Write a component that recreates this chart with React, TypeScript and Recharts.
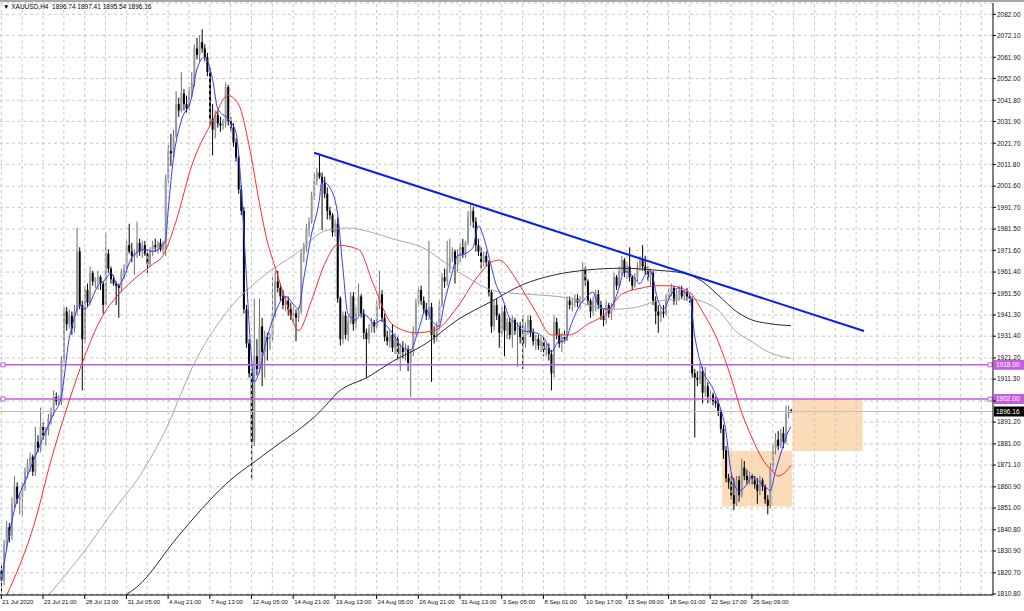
import React from 'react';
import {
  ComposedChart,
  Bar,
  Line,
  XAxis,
  YAxis,
  CartesianGrid,
  ReferenceLine,
  ReferenceArea,
} from 'recharts';

// XAUUSD H4 candles (bar 0 = 21 Jul 2020)
const opens = [
  1822, 1817, 1834, 1842, 1838, 1853, 1861, 1855, 1856, 1862,
  1868, 1871, 1875, 1868, 1882, 1879, 1889, 1885, 1887, 1893,
  1896, 1903, 1901, 1901, 1920, 1943, 1937, 1941, 1935, 1943,
  1971, 1946, 1930, 1953, 1947, 1961, 1957, 1958, 1959, 1956,
  1946, 1970, 1963, 1958, 1956, 1955, 1954, 1961, 1963, 1974,
  1971, 1969, 1970, 1975, 1971, 1974, 1970, 1965, 1971, 1974,
  1973, 1975, 1972, 1972, 2005, 2018, 2017, 2025, 2040, 2037,
  2045, 2040, 2038, 2046, 2050, 2066, 2063, 2069, 2066, 2062,
  2055, 2033, 2028, 2035, 2031, 2030, 2031, 2048, 2032, 2029,
  2022, 2015, 2000, 1990, 1944, 1928, 1914, 1882, 1922, 1916,
  1936, 1924, 1931, 1930, 1931, 1942, 1957, 1954, 1950, 1946,
  1948, 1944, 1941, 1942, 1940, 1943, 1970, 1973, 1982, 1985,
  1997, 2004, 2008, 2006, 2003, 1998, 1990, 1988, 1980, 1984,
  1949, 1930, 1941, 1932, 1938, 1950, 1937, 1942, 1950, 1942,
  1933, 1930, 1935, 1938, 1936, 1946, 1951, 1940, 1931, 1929,
  1932, 1926, 1930, 1923, 1926, 1924, 1925, 1919, 1924, 1934,
  1947, 1953, 1948, 1944, 1941, 1945, 1932, 1931, 1936, 1946,
  1959, 1957, 1963, 1968, 1971, 1965, 1969, 1973, 1970, 1975,
  1987, 1990, 1985, 1974, 1971, 1966, 1969, 1966, 1952, 1936,
  1946, 1941, 1933, 1943, 1934, 1938, 1932, 1939, 1934, 1936,
  1931, 1928, 1936, 1939, 1933, 1929, 1930, 1927, 1929, 1925,
  1926, 1923, 1914, 1938, 1932, 1928, 1931, 1930, 1948, 1946,
  1947, 1949, 1947, 1949, 1963, 1957, 1948, 1943, 1948, 1951,
  1946, 1941, 1939, 1946, 1942, 1945, 1959, 1955, 1962, 1967,
  1961, 1964, 1959, 1955, 1959, 1964, 1967, 1964, 1962, 1959,
  1961, 1948, 1943, 1941, 1943, 1942, 1950, 1952, 1954, 1948,
  1951, 1953, 1950, 1952, 1950, 1949, 1914, 1912, 1911, 1915,
  1905, 1908, 1903, 1904, 1901, 1900, 1896, 1888, 1878, 1865,
  1863, 1857, 1853, 1864, 1857, 1870, 1866, 1864, 1866, 1864,
  1862, 1859, 1864, 1861, 1855, 1852, 1870, 1879, 1883, 1880,
  1886, 1882, 1895, 1896.74,
];

const highs = [
  1824, 1836, 1845, 1844, 1856, 1866, 1863, 1858, 1863, 1870,
  1874, 1877, 1876, 1889, 1885, 1898, 1891, 1889, 1895, 1898,
  1906, 1905, 1904, 1922, 1945, 1945, 1944, 1943, 1946, 1982,
  1973, 1948, 1955, 1956, 1964, 1962, 1959, 1962, 1960, 1957,
  1980, 1972, 1964, 1960, 1957, 1956, 1963, 1965, 1976, 1984,
  1975, 1972, 1985, 1977, 1976, 1976, 1972, 1973, 1976, 1977,
  1976, 1977, 1976, 2007, 2021, 2026, 2028, 2046, 2043, 2055,
  2047, 2044, 2048, 2055, 2068, 2071, 2072, 2075, 2068, 2064,
  2057, 2040, 2037, 2037, 2034, 2033, 2050, 2049, 2034, 2031,
  2024, 2016, 2002, 1992, 1946, 1930, 1916, 1949, 1930, 1949,
  1940, 1934, 1933, 1933, 1959, 1962, 1962, 1956, 1953, 1950,
  1950, 1947, 1945, 1944, 1945, 1972, 1975, 1984, 1987, 1999,
  2008, 2010, 2016, 2008, 2006, 2001, 1992, 1989, 1986, 1987,
  1950, 1943, 1943, 1941, 1952, 1952, 1945, 1956, 1951, 1944,
  1935, 1937, 1940, 1939, 1948, 1962, 1953, 1942, 1934, 1934,
  1937, 1933, 1932, 1928, 1929, 1928, 1927, 1925, 1936, 1949,
  1955, 1955, 1950, 1947, 1976, 1947, 1936, 1938, 1948, 1961,
  1963, 1976, 1977, 1973, 1972, 1972, 1975, 1977, 1976, 1990,
  1993, 1992, 1987, 1977, 1973, 1971, 1971, 1967, 1953, 1948,
  1949, 1942, 1945, 1946, 1940, 1940, 1941, 1940, 1938, 1938,
  1941, 1938, 1941, 1941, 1935, 1932, 1932, 1931, 1931, 1928,
  1928, 1925, 1941, 1940, 1935, 1933, 1934, 1950, 1950, 1949,
  1951, 1951, 1950, 1966, 1964, 1958, 1949, 1950, 1953, 1953,
  1948, 1944, 1948, 1947, 1947, 1961, 1960, 1964, 1969, 1968,
  1966, 1973, 1960, 1961, 1966, 1969, 1974, 1969, 1964, 1963,
  1962, 1950, 1946, 1945, 1946, 1951, 1954, 1956, 1955, 1953,
  1955, 1955, 1953, 1954, 1952, 1950, 1916, 1915, 1919, 1917,
  1917, 1910, 1906, 1905, 1903, 1902, 1897, 1890, 1880, 1867,
  1866, 1865, 1866, 1866, 1874, 1873, 1869, 1868, 1867, 1866,
  1865, 1866, 1865, 1862, 1857, 1872, 1881, 1886, 1887, 1888,
  1889, 1899, 1899, 1897.41,
];

const lows = [
  1812, 1815, 1832, 1835, 1836, 1851, 1853, 1848, 1847, 1859,
  1865, 1868, 1866, 1866, 1877, 1877, 1883, 1880, 1885, 1890,
  1894, 1899, 1899, 1899, 1919, 1934, 1935, 1932, 1933, 1941,
  1944, 1906, 1928, 1945, 1946, 1955, 1954, 1953, 1953, 1942,
  1945, 1961, 1956, 1955, 1946, 1940, 1952, 1958, 1961, 1970,
  1966, 1960, 1968, 1969, 1968, 1969, 1961, 1964, 1969, 1971,
  1970, 1971, 1970, 1969, 2003, 2011, 2015, 2024, 2034, 2036,
  2037, 2036, 2037, 2043, 2048, 2061, 2060, 2064, 2060, 2053,
  2030, 2016, 2024, 2029, 2027, 2028, 2029, 2030, 2027, 2020,
  2013, 1998, 1988, 1942, 1926, 1912, 1864, 1880, 1913, 1914,
  1908, 1912, 1920, 1925, 1929, 1940, 1952, 1948, 1944, 1943,
  1941, 1939, 1938, 1929, 1938, 1942, 1966, 1971, 1978, 1984,
  1995, 2002, 2005, 1981, 1996, 1986, 1986, 1978, 1978, 1947,
  1927, 1928, 1930, 1929, 1937, 1934, 1935, 1941, 1940, 1930,
  1912, 1928, 1933, 1933, 1935, 1944, 1938, 1929, 1927, 1926,
  1924, 1923, 1920, 1915, 1921, 1920, 1915, 1903, 1922, 1932,
  1945, 1946, 1942, 1939, 1939, 1910, 1928, 1929, 1934, 1945,
  1954, 1955, 1961, 1966, 1956, 1962, 1966, 1968, 1968, 1974,
  1983, 1982, 1971, 1969, 1963, 1964, 1964, 1950, 1933, 1934,
  1939, 1926, 1931, 1922, 1930, 1930, 1926, 1932, 1917, 1928,
  1916, 1926, 1932, 1931, 1927, 1925, 1925, 1924, 1922, 1922,
  1920, 1906, 1912, 1930, 1926, 1924, 1928, 1929, 1944, 1943,
  1945, 1945, 1944, 1947, 1955, 1946, 1940, 1941, 1943, 1944,
  1939, 1936, 1937, 1940, 1939, 1944, 1953, 1954, 1960, 1959,
  1958, 1957, 1953, 1954, 1957, 1962, 1962, 1960, 1957, 1955,
  1946, 1937, 1933, 1938, 1940, 1941, 1948, 1950, 1946, 1946,
  1948, 1949, 1948, 1948, 1947, 1912, 1884, 1908, 1909, 1900,
  1903, 1900, 1900, 1899, 1898, 1894, 1886, 1874, 1863, 1860,
  1855, 1850, 1852, 1854, 1856, 1864, 1862, 1862, 1862, 1860,
  1853, 1857, 1859, 1853, 1848, 1851, 1868, 1876, 1878, 1879,
  1879, 1881, 1893, 1895.54,
];

const closes = [
  1817, 1834, 1842, 1838, 1853, 1861, 1855, 1856, 1862, 1868,
  1871, 1875, 1868, 1882, 1879, 1889, 1885, 1887, 1893, 1896,
  1903, 1901, 1902, 1920, 1943, 1937, 1941, 1935, 1943, 1971,
  1946, 1930, 1953, 1947, 1961, 1957, 1958, 1959, 1956, 1946,
  1970, 1963, 1958, 1956, 1955, 1954, 1961, 1963, 1974, 1971,
  1969, 1970, 1975, 1971, 1974, 1970, 1965, 1971, 1974, 1973,
  1975, 1972, 1974, 2005, 2018, 2017, 2025, 2040, 2037, 2045,
  2040, 2038, 2046, 2050, 2066, 2063, 2069, 2066, 2062, 2055,
  2033, 2028, 2035, 2031, 2030, 2031, 2048, 2032, 2029, 2022,
  2015, 2000, 1990, 1944, 1928, 1914, 1882, 1922, 1916, 1936,
  1924, 1931, 1930, 1931, 1942, 1957, 1954, 1950, 1946, 1948,
  1944, 1941, 1942, 1940, 1943, 1970, 1973, 1982, 1985, 1997,
  2004, 2008, 2006, 2003, 1998, 1990, 1988, 1980, 1984, 1949,
  1930, 1941, 1932, 1938, 1950, 1937, 1942, 1950, 1942, 1933,
  1930, 1935, 1938, 1936, 1946, 1951, 1940, 1931, 1929, 1932,
  1926, 1930, 1923, 1926, 1924, 1925, 1919, 1924, 1934, 1947,
  1953, 1948, 1944, 1941, 1945, 1932, 1931, 1936, 1946, 1959,
  1957, 1963, 1968, 1971, 1965, 1969, 1973, 1970, 1975, 1987,
  1990, 1985, 1974, 1971, 1966, 1969, 1966, 1952, 1936, 1946,
  1941, 1933, 1943, 1934, 1938, 1932, 1939, 1934, 1936, 1931,
  1928, 1936, 1939, 1933, 1929, 1930, 1927, 1929, 1925, 1926,
  1923, 1914, 1938, 1932, 1928, 1931, 1930, 1948, 1946, 1947,
  1949, 1947, 1949, 1963, 1957, 1948, 1943, 1948, 1951, 1946,
  1941, 1939, 1946, 1942, 1945, 1959, 1955, 1962, 1967, 1961,
  1964, 1959, 1955, 1959, 1964, 1967, 1964, 1962, 1959, 1961,
  1948, 1943, 1941, 1943, 1942, 1950, 1952, 1954, 1948, 1951,
  1953, 1950, 1952, 1950, 1949, 1914, 1912, 1911, 1915, 1905,
  1908, 1903, 1904, 1901, 1900, 1896, 1888, 1878, 1865, 1863,
  1857, 1853, 1864, 1857, 1870, 1866, 1864, 1866, 1864, 1862,
  1859, 1864, 1861, 1855, 1852, 1870, 1879, 1883, 1880, 1886,
  1882, 1895, 1896.74, 1896.16,
];

// moving averages as [bar, price]
const fastMA: [number, number][] = [
  [0, 1817], [5, 1850], [10, 1866], [15, 1881], [20, 1895], [23, 1903], [26, 1930],
  [28, 1940], [30, 1946], [32, 1944], [34, 1947], [37, 1955], [40, 1958], [42, 1961],
  [45, 1955], [47, 1959], [50, 1968], [55, 1972], [58, 1971], [63, 1976], [64, 1990],
  [66, 2014], [69, 2032], [73, 2043], [75, 2056], [78, 2062], [81, 2052], [83, 2038],
  [87, 2033], [90, 2027], [92, 2002], [94, 1960], [96, 1921], [97, 1910], [99, 1915],
  [101, 1926], [105, 1942], [109, 1950], [113, 1945], [114, 1944], [116, 1958],
  [119, 1979], [122, 1995], [123, 2004], [126, 2001], [129, 1989], [131, 1964],
  [133, 1942], [136, 1939], [138, 1942], [141, 1940], [143, 1937], [146, 1939],
  [148, 1936], [150, 1933], [154, 1926], [157, 1925], [160, 1934], [163, 1944],
  [165, 1939], [168, 1936], [170, 1947], [173, 1961], [175, 1969], [178, 1970],
  [181, 1973], [183, 1983], [185, 1978], [187, 1969], [190, 1955], [192, 1950],
  [195, 1940], [198, 1937], [200, 1934], [205, 1933], [209, 1929], [211, 1924],
  [214, 1929], [216, 1929], [219, 1938], [222, 1946], [224, 1949], [227, 1952],
  [229, 1946], [232, 1944], [234, 1945], [237, 1954], [239, 1962], [242, 1960],
  [245, 1956], [247, 1960], [249, 1962], [252, 1948], [254, 1944], [257, 1951],
  [260, 1954], [262, 1952], [264, 1951], [266, 1932], [269, 1916], [273, 1907],
  [275, 1901], [278, 1887], [280, 1868], [283, 1859], [286, 1862], [288, 1866],
  [291, 1863], [294, 1860], [295, 1859], [297, 1868], [300, 1880], [302, 1887],
  [303, 1889],
];

const redMA: [number, number][] = [
  [2, 1810], [13, 1845], [19, 1873], [26, 1901], [32, 1922], [38, 1939], [45, 1951],
  [50, 1957], [58, 1965], [62, 1969], [67, 1985], [73, 2011], [81, 2032], [87, 2044],
  [91, 2040], [95, 2021], [99, 1994], [102, 1976], [105, 1964], [110, 1945],
  [114, 1934], [119, 1948], [124, 1965], [129, 1974], [137, 1972], [143, 1955],
  [150, 1937], [159, 1933], [166, 1934], [175, 1945], [182, 1958], [188, 1966],
  [191, 1967], [197, 1959], [200, 1953], [205, 1943], [211, 1932], [218, 1932],
  [225, 1937], [232, 1942], [238, 1951], [246, 1954], [251, 1955], [256, 1955],
  [264, 1952], [269, 1943], [275, 1929], [280, 1912], [284, 1896], [288, 1884],
  [292, 1874], [296, 1868], [298, 1866], [301, 1868], [303, 1871],
];

const grayMA: [number, number][] = [
  [18, 1810], [32, 1831], [45, 1853], [52, 1864], [62, 1885], [75, 1921], [88, 1945],
  [100, 1959], [113, 1970], [125, 1981], [133, 1982], [142, 1980], [150, 1977],
  [163, 1972], [170, 1966], [180, 1958], [188, 1953], [196, 1951.5], [202, 1951],
  [219, 1949], [225, 1946], [235, 1944], [244, 1945], [251, 1947.6], [264, 1949],
  [269, 1947.6], [275, 1943.7], [282, 1933.5], [288, 1928.8], [294, 1924.2],
  [303, 1921],
];

const blackMA: [number, number][] = [
  [48, 1810.5], [52, 1814], [68, 1838], [86, 1862], [102, 1877], [123, 1897],
  [129, 1905], [141, 1912.5], [150, 1919.5], [163, 1928], [175, 1939], [188, 1947.6],
  [200, 1955.5], [212, 1960], [225, 1962.4], [238, 1963.2], [250, 1962.4],
  [262, 1960.8], [269, 1957], [275, 1950.7], [282, 1943], [288, 1939], [294, 1937.4],
  [303, 1936.3],
];

const dateLabels = [
  '21 Jul 2020', '23 Jul 21:00', '28 Jul 13:00', '31 Jul 05:00', '4 Aug 21:00',
  '7 Aug 13:00', '12 Aug 05:00', '14 Aug 21:00', '19 Aug 13:00', '24 Aug 05:00',
  '26 Aug 21:00', '31 Aug 13:00', '3 Sep 05:00', '8 Sep 01:00', '10 Sep 17:00',
  '15 Sep 09:00', '18 Sep 01:00', '22 Sep 17:00', '25 Sep 09:00',
];
const dateBars = [
  0, 16, 32, 48, 64, 80, 96, 112, 128, 144, 160, 176, 192, 208, 224, 240, 256, 272, 288,
];
const gridBars = Array.from({ length: 48 }, (_, k) => k * 8);

const priceTicks = [
  2082.0, 2072.1, 2061.9, 2052.0, 2041.8, 2031.9, 2021.7, 2011.8, 2001.6, 1991.7,
  1981.5, 1971.6, 1961.4, 1951.5, 1941.3, 1931.4, 1921.2, 1911.3, 1901.1, 1891.2,
  1881.0, 1871.1, 1860.9, 1851.0, 1840.8, 1830.9, 1820.7, 1810.8,
];
// this tick's label sits under the 1902.00 tag in the original
const hiddenTick = 1901.1;

const levels = [1918.0, 1902.0];
const lastPrice = 1896.16;
const trendStart = { bar: 120, price: 2017.2 };
const trendEnd = { bar: 331, price: 1933.8 };
const boxLow = { x1: 277, x2: 303, y1: 1851.7, y2: 1877.7 };
const boxHigh = { x1: 304, x2: 330, y1: 1877.7, y2: 1902.0 };

const SLOTS = 381;
const FONT = '"Liberation Sans", Arial, sans-serif';

const rows: any[] = Array.from({ length: SLOTS }, (_, i) =>
  i < closes.length
    ? { i, o: opens[i], h: highs[i], l: lows[i], c: closes[i], range: [lows[i], highs[i]] }
    : { i }
);
fastMA.forEach(([b, v]) => (rows[b].fast = v));
redMA.forEach(([b, v]) => (rows[b].red = v));
grayMA.forEach(([b, v]) => (rows[b].gray = v));
blackMA.forEach(([b, v]) => (rows[b].black = v));

const Candle = (props: any) => {
  const { x, y, width, height, payload } = props;
  if (payload == null || payload.h == null || !height) return null;
  const { o, h, l, c } = payload;
  const k = height / (h - l);
  const cx = x + width / 2;
  const yo = y + (h - o) * k;
  const yc = y + (h - c) * k;
  const up = c >= o;
  const top = Math.min(yo, yc);
  const bh = Math.max(1, Math.abs(yc - yo));
  return (
    <g>
      <line x1={cx} x2={cx} y1={y} y2={y + height} stroke={up ? '#6e6e6e' : '#000'} strokeWidth={1} />
      <rect x={cx - 1} y={top} width={2} height={bh} fill={up ? '#9a9a9a' : '#000'} />
    </g>
  );
};

const DateTick = (props: any) => {
  const { x, y, payload } = props;
  const k = dateBars.indexOf(payload.value);
  if (k < 0) return null;
  return (
    <text x={x + 1} y={y} dy="0.75em" fontSize={6} fontFamily={FONT} fill="#111">
      {dateLabels[k]}
    </text>
  );
};

const priceTag = (value: number, bg: string, fg: string, marks: boolean) => (props: any) => {
  const vb = props.viewBox || {};
  const y = vb.y;
  const left = vb.x;
  const right = vb.x + vb.width;
  return (
    <g>
      {marks && <rect x={left + 1} y={y - 2} width={4} height={4} fill="#fff" stroke={bg} strokeWidth={1} />}
      {marks && <rect x={right - 5} y={y - 2} width={4} height={4} fill="#fff" stroke={bg} strokeWidth={1} />}
      <rect x={right + 1} y={y - 5} width={30} height={10} fill={bg} />
      <text x={right + 3} y={y} dy="0.36em" fontSize={6.5} fontFamily={FONT} fill={fg}>
        {value.toFixed(2)}
      </text>
    </g>
  );
};

export default function App() {
  return (
    <div
      style={{
        position: 'absolute',
        left: 0,
        top: 0,
        width: 1024,
        height: 611,
        background: '#fff',
        overflow: 'hidden',
      }}
    >
      <div style={{ position: 'absolute', left: 0, top: 0, width: 1024, height: 2, background: '#a8a8a8' }} />
      <div
        style={{
          position: 'absolute',
          left: 3,
          top: 3,
          fontFamily: FONT,
          fontSize: 6.5,
          color: '#000',
          zIndex: 2,
          whiteSpace: 'pre',
        }}
      >
        {'▼ XAUUSD,H4  1896.74 1897.41 1895.54 1896.16'}
      </div>
      <ComposedChart
        width={1024}
        height={611}
        data={rows}
        margin={{ top: 3, right: 0, bottom: 0, left: 0 }}
        barCategoryGap={0}
        barGap={0}
      >
        <CartesianGrid vertical={false} stroke="#c8c8c8" strokeDasharray="3 3" />
        {gridBars.map((b) => (
          <ReferenceLine key={`g${b}`} x={b} stroke="#c8c8c8" strokeDasharray="3 3" />
        ))}
        <XAxis
          dataKey="i"
          type="category"
          ticks={dateBars}
          interval={0}
          height={16}
          tickSize={4}
          tickMargin={0}
          tick={<DateTick />}
          axisLine={{ stroke: '#000' }}
          tickLine={{ stroke: '#000' }}
        />
        <YAxis
          orientation="right"
          type="number"
          width={31}
          domain={[1810.3, 2087.3]}
          allowDataOverflow
          ticks={priceTicks}
          interval={0}
          tickFormatter={(v: number) => (v === hiddenTick ? '' : v.toFixed(2))}
          tick={{ fontSize: 6.5, fill: '#111', fontFamily: FONT }}
          tickSize={3}
          tickMargin={1}
          axisLine={{ stroke: '#000' }}
          tickLine={{ stroke: '#000' }}
        />
        <ReferenceArea {...boxLow} fill="#fcd6ab" fillOpacity={0.85} stroke="none" />
        <ReferenceArea {...boxHigh} fill="#fcd6ab" fillOpacity={0.85} stroke="none" />
        <ReferenceLine y={lastPrice} stroke="#c0c0c0" label={priceTag(lastPrice, '#000', '#fff', false)} />
        {levels.map((v) => (
          <ReferenceLine
            key={`lv${v}`}
            y={v}
            stroke="#c35ee0"
            strokeWidth={1.5}
            label={priceTag(v, '#c35ee0', '#fff', true)}
          />
        ))}
        <Bar dataKey="range" shape={<Candle />} isAnimationActive={false} />
        <Line type="monotone" dataKey="black" stroke="#2a2a2a" strokeWidth={1} dot={false} connectNulls isAnimationActive={false} />
        <Line type="monotone" dataKey="gray" stroke="#a8a8a8" strokeWidth={1} dot={false} connectNulls isAnimationActive={false} />
        <Line type="monotone" dataKey="red" stroke="#ff2a2a" strokeWidth={1} dot={false} connectNulls isAnimationActive={false} />
        <Line type="monotone" dataKey="fast" stroke="#2f3cff" strokeWidth={1} dot={false} connectNulls isAnimationActive={false} />
        <ReferenceLine
          segment={[
            { x: trendStart.bar, y: trendStart.price },
            { x: trendEnd.bar, y: trendEnd.price },
          ]}
          stroke="#0a1ef0"
          strokeWidth={2}
        />
      </ComposedChart>
    </div>
  );
}
